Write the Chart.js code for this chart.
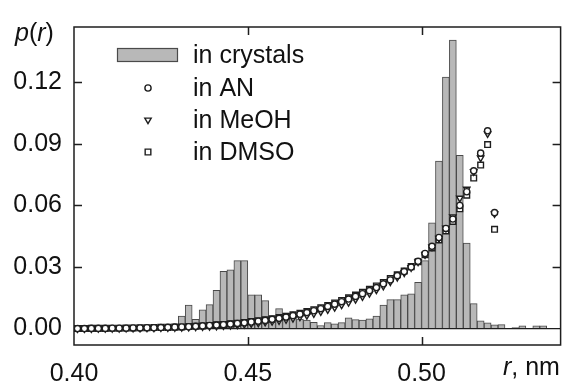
<!DOCTYPE html>
<html>
<head>
<meta charset="utf-8">
<title>p(r)</title>
<script src="https://cdn.jsdelivr.net/npm/chart.js@4.4.0/dist/chart.umd.min.js"></script>
<style>
	html, body { margin: 0; padding: 0; background: #fff; }
	#chart-pr { display: block; }
</style>
</head>
<body>
<canvas id="chart-pr" width="566" height="385"></canvas>
<script>
//
// p(r) histogram + solution curves
//

'use strict';

// Data

// bin centres, nm (solution points use the first 61 of them)
var R_BINS = [
	0.401, 0.403, 0.405, 0.407, 0.409, 0.411, 0.413, 0.415, 0.417, 0.419,
	0.421, 0.423, 0.425, 0.427, 0.429, 0.431, 0.433, 0.435, 0.437, 0.439,
	0.441, 0.443, 0.445, 0.447, 0.449, 0.451, 0.453, 0.455, 0.457, 0.459,
	0.461, 0.463, 0.465, 0.467, 0.469, 0.471, 0.473, 0.475, 0.477, 0.479,
	0.481, 0.483, 0.485, 0.487, 0.489, 0.491, 0.493, 0.495, 0.497, 0.499,
	0.501, 0.503, 0.505, 0.507, 0.509, 0.511, 0.513, 0.515, 0.517, 0.519,
	0.521, 0.523, 0.525, 0.527, 0.529, 0.531, 0.533, 0.535, 0.537, 0.539
];

var P_CRYSTALS = [
	0, 0, 0, 0, 0, 0, 0, 0, 0, 0,
	0, 0, 0, 0, 0.0008, 0.0061, 0.0115, 0.0045, 0.0092, 0.0117,
	0.0186, 0.0279, 0.0287, 0.0331, 0.0331, 0.0164, 0.0164, 0.0136, 0.0030, 0.0097,
	0.0076, 0.0058, 0.0046, 0.0042, 0.0030, 0.0015, 0.0029, 0.0023, 0.0029, 0.0053,
	0.0044, 0.0041, 0.0047, 0.0061, 0.0115, 0.0141, 0.0141, 0.0164, 0.0170, 0.0226,
	0.0331, 0.0516, 0.0816, 0.1226, 0.1406, 0.0844, 0.0417, 0.0122, 0.0038, 0.0028,
	0.0018, 0.0019, 0, 0.0005, 0.0013, 0, 0.0013, 0.0013, 0, 0
];

var P_AN = [
	0.0000, 0.0000, 0.0001, 0.0001, 0.0001, 0.0002, 0.0002, 0.0002, 0.0003, 0.0003,
	0.0004, 0.0004, 0.0005, 0.0006, 0.0007, 0.0008, 0.0009, 0.0011, 0.0013, 0.0015,
	0.0017, 0.0019, 0.0022, 0.0025, 0.0028, 0.0032, 0.0036, 0.0040, 0.0045, 0.0050,
	0.0056, 0.0063, 0.0070, 0.0078, 0.0087, 0.0097, 0.0108, 0.0119, 0.0131, 0.0144,
	0.0157, 0.0170, 0.0185, 0.0200, 0.0218, 0.0237, 0.0258, 0.0278, 0.0300, 0.0328,
	0.0366, 0.0401, 0.0444, 0.0488, 0.0534, 0.0600, 0.0667, 0.0769, 0.0855, 0.0964,
	0.0565
];

var P_MEOH = [
	0.0000, 0.0000, 0.0000, 0.0001, 0.0001, 0.0001, 0.0001, 0.0002, 0.0002, 0.0002,
	0.0003, 0.0003, 0.0004, 0.0004, 0.0005, 0.0006, 0.0007, 0.0008, 0.0009, 0.0011,
	0.0012, 0.0014, 0.0016, 0.0018, 0.0021, 0.0024, 0.0027, 0.0031, 0.0035, 0.0039,
	0.0044, 0.0050, 0.0057, 0.0064, 0.0073, 0.0082, 0.0092, 0.0103, 0.0115, 0.0128,
	0.0142, 0.0156, 0.0171, 0.0188, 0.0207, 0.0228, 0.0250, 0.0272, 0.0297, 0.0325,
	0.0360, 0.0398, 0.0440, 0.0490, 0.0545, 0.0636, 0.0680, 0.0765, 0.0832, 0.0950,
	0.0560
];

var P_DMSO = [
	0.0000, 0.0000, 0.0001, 0.0001, 0.0001, 0.0002, 0.0002, 0.0003, 0.0003, 0.0004,
	0.0004, 0.0005, 0.0006, 0.0006, 0.0007, 0.0008, 0.0010, 0.0011, 0.0013, 0.0015,
	0.0018, 0.0020, 0.0023, 0.0026, 0.0030, 0.0034, 0.0038, 0.0043, 0.0048, 0.0054,
	0.0060, 0.0067, 0.0075, 0.0083, 0.0092, 0.0102, 0.0113, 0.0125, 0.0137, 0.0150,
	0.0163, 0.0177, 0.0192, 0.0208, 0.0225, 0.0244, 0.0262, 0.0281, 0.0302, 0.0326,
	0.0360, 0.0393, 0.0432, 0.0476, 0.0522, 0.0584, 0.0650, 0.0734, 0.0797, 0.0897,
	0.0484
];

var X_TICKS = [0.40, 0.45, 0.50];
var Y_TICKS = [0.00, 0.03, 0.06, 0.09, 0.12];
var LABELS = ['in crystals', 'in AN', 'in MeOH', 'in DMSO'];


var PrChart = (function() {

	// Variables

	var $canvas = document.getElementById('chart-pr');
	var FONT = '"Liberation Sans", Arial, Helvetica, sans-serif';
	var INK = '#1e1e1e';
	var BAR_FILL = '#b8b8b8';
	var BAR_LINE = '#4a4a4a';


	// Methods

	function points(values) {
		return values.map(function(v, i) {
			return { x: R_BINS[i], y: v };
		});
	}

	function marker(style, rotation, radius) {
		return {
			pointStyle: style,
			rotation: rotation,
			pointRadius: radius,
			pointBackgroundColor: '#fff',
			pointBorderColor: INK,
			pointBorderWidth: 1.4
		};
	}

	// text with italic pieces, e.g. p(r)
	function drawParts(ctx, parts, x, y) {
		parts.forEach(function(p) {
			ctx.font = (p[1] ? 'italic ' : '') + '25px ' + FONT;
			ctx.fillText(p[0], x, y);
			x += ctx.measureText(p[0]).width;
		});
	}

	var framePlugin = {
		id: 'frame',
		afterDraw: function(chart) {
			var ctx = chart.ctx;
			var a = chart.chartArea;
			var sx = chart.scales.x;
			var sy = chart.scales.y;
			var ds = chart.data.datasets;

			ctx.save();
			ctx.strokeStyle = INK;
			ctx.lineWidth = 1.5;
			ctx.strokeRect(a.left, a.top, a.right - a.left, a.bottom - a.top);

			// inward ticks on all four sides
			ctx.beginPath();
			X_TICKS.forEach(function(v) {
				var px = Math.round(sx.getPixelForValue(v)) + 0.5;
				if (px - a.left < 4) return;
				ctx.moveTo(px, a.bottom); ctx.lineTo(px, a.bottom - 8);
				ctx.moveTo(px, a.top); ctx.lineTo(px, a.top + 8);
			});
			Y_TICKS.forEach(function(v) {
				var py = Math.round(sy.getPixelForValue(v)) + 0.5;
				if (v === 0) return;
				ctx.moveTo(a.left, py); ctx.lineTo(a.left + 8, py);
				ctx.moveTo(a.right, py); ctx.lineTo(a.right - 8, py);
			});
			ctx.stroke();

			// axis titles
			ctx.fillStyle = '#111';
			ctx.textBaseline = 'alphabetic';
			ctx.textAlign = 'left';
			drawParts(ctx, [['p', true], ['(', false], ['r', true], [')', false]], 15, 41);
			drawParts(ctx, [['r', true], [', nm', false]], 503, 375);

			// legend
			var lx = 148;
			var rows = [55, 88, 120, 152];
			ctx.fillStyle = BAR_FILL;
			ctx.strokeStyle = BAR_LINE;
			ctx.lineWidth = 1.2;
			ctx.fillRect(117, 48, 61, 14);
			ctx.strokeRect(117.5, 48.5, 60, 13);

			ctx.fillStyle = '#fff';
			ctx.strokeStyle = INK;
			for (var i = 1; i < 4; i++) {
				ctx.lineWidth = ds[i].pointBorderWidth;
				Chart.helpers.drawPoint(ctx, {
					pointStyle: ds[i].pointStyle,
					rotation: ds[i].rotation,
					radius: ds[i].pointRadius,
					borderWidth: ds[i].pointBorderWidth
				}, lx, rows[i]);
			}

			ctx.fillStyle = '#111';
			ctx.font = '25px ' + FONT;
			ctx.textBaseline = 'middle';
			LABELS.forEach(function(t, j) {
				ctx.fillText(t, 193, rows[j] + 1);
			});
			ctx.restore();
		}
	};

	function init($this) {
		Chart.defaults.font.family = FONT;
		Chart.defaults.color = '#111';

		var prChart = new Chart($this, {
			type: 'bar',
			data: {
				datasets: [{
					label: LABELS[0],
					data: points(P_CRYSTALS),
					backgroundColor: BAR_FILL,
					borderColor: BAR_LINE,
					borderWidth: 1,
					barPercentage: 1,
					categoryPercentage: 1,
					order: 4
				}, Object.assign({
					type: 'scatter',
					label: LABELS[1],
					data: points(P_AN),
					order: 1
				}, marker('circle', 0, 3.1)), Object.assign({
					type: 'scatter',
					label: LABELS[2],
					data: points(P_MEOH),
					order: 2
				}, marker('triangle', 180, 3.7)), Object.assign({
					type: 'scatter',
					label: LABELS[3],
					data: points(P_DMSO),
					order: 3
				}, marker('rect', 0, 4))]
			},
			options: {
				responsive: false,
				animation: false,
				layout: {
					padding: { top: 13, right: 2, left: 0, bottom: 0 }
				},
				plugins: {
					legend: { display: false },
					tooltip: { enabled: false }
				},
				scales: {
					x: {
						type: 'linear',
						position: 'bottom',
						offset: false,
						min: 0.40,
						max: 0.54,
						afterBuildTicks: function(s) {
							s.ticks = X_TICKS.map(function(v) { return { value: v }; });
						},
						afterFit: function(s) { s.height = 40; },
						grid: { display: false, offset: false },
						border: { display: false },
						ticks: {
							padding: 6,
							maxRotation: 0,
							font: { size: 25 },
							callback: function(v) { return v.toFixed(2); }
						}
					},
					y: {
						min: -0.008,
						max: 0.147,
						afterBuildTicks: function(s) {
							s.ticks = Y_TICKS.map(function(v) { return { value: v }; });
						},
						afterFit: function(s) { s.width = 74; },
						grid: {
							drawTicks: false,
							lineWidth: 1.2,
							color: function(c) {
								return c.tick && c.tick.value === 0 ? INK : 'rgba(0,0,0,0)';
							}
						},
						border: { display: false },
						ticks: {
							padding: 12,
							font: { size: 25 },
							callback: function(v) { return v.toFixed(2); }
						}
					}
				}
			},
			plugins: [framePlugin]
		});

		return prChart;
	}


	// Events

	if ($canvas) {
		return init($canvas);
	}

})();
</script>
</body>
</html>
